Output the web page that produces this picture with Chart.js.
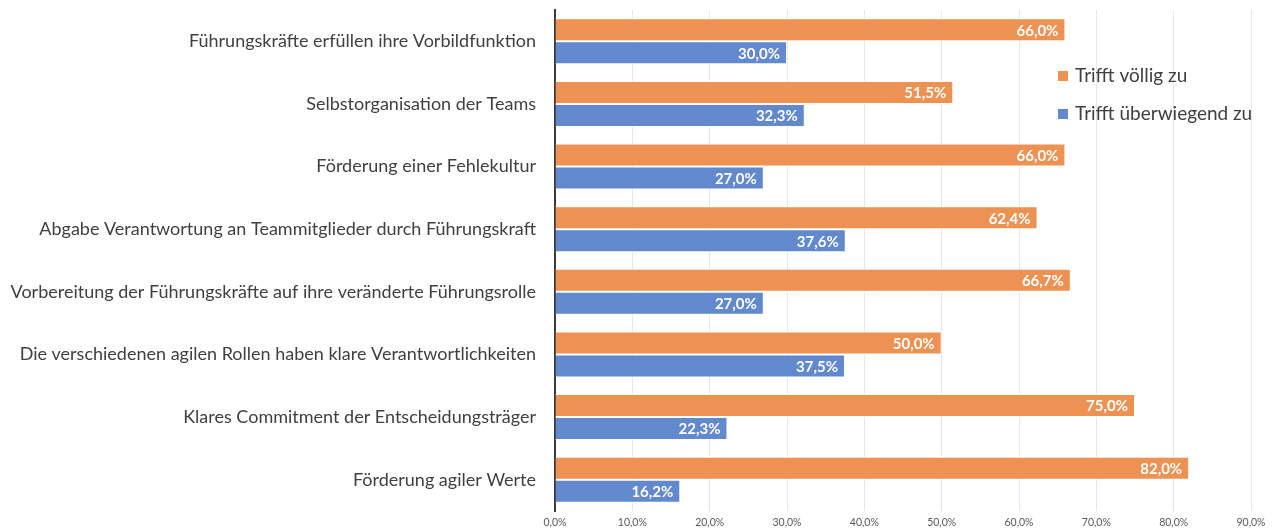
<!DOCTYPE html>
<html>
<head>
<meta charset="utf-8">
<script src="https://cdn.jsdelivr.net/npm/chart.js@4"></script>
<style>
html,body{margin:0;padding:0;background:#fff;}
#wrap{width:1272px;height:532px;position:relative;}
</style>
</head>
<body>
<div id="wrap"><canvas id="c" width="1272" height="532"></canvas></div>
<script>
const categories = [
  "Führungskräfte erfüllen ihre Vorbildfunktion",
  "Selbstorganisation der Teams",
  "Förderung einer Fehlekultur",
  "Abgabe Verantwortung an Teammitglieder durch Führungskraft",
  "Vorbereitung der Führungskräfte auf ihre veränderte Führungsrolle",
  "Die verschiedenen agilen Rollen haben klare Verantwortlichkeiten",
  "Klares Commitment der Entscheidungsträger",
  "Förderung agiler Werte"
];
const seriesNames = ["Trifft völlig zu", "Trifft überwiegend zu"];
const trifftVoellig = [66.0, 51.5, 66.0, 62.4, 66.7, 50.0, 75.0, 82.0];
const trifftUeberwiegend = [30.0, 32.3, 27.0, 37.6, 27.0, 37.5, 22.3, 16.2];
const xTicks = [0, 10, 20, 30, 40, 50, 60, 70, 80, 90];

const ORANGE = "#EE9254";
const BLUE = "#6289CE";
const fmt = v => v.toFixed(1).replace(".", ",") + "%";

const labelPlugin = {
  id: "barLabels",
  afterDatasetsDraw(chart) {
    const ctx = chart.ctx;
    ctx.save();
    ctx.font = "bold 15px Lato";
    ctx.fillStyle = "#ffffff";
    ctx.textAlign = "right";
    ctx.textBaseline = "middle";
    chart.data.datasets.forEach((ds, di) => {
      const meta = chart.getDatasetMeta(di);
      meta.data.forEach((el, i) => {
        ctx.fillText(fmt(ds.data[i]), el.x - 7, el.y + 1);
      });
    });
    ctx.restore();
  }
};

const legendPlugin = {
  id: "customLegend",
  afterDraw(chart) {
    const ctx = chart.ctx;
    ctx.save();
    ctx.font = "19px Lato";
    ctx.textBaseline = "middle";
    ctx.textAlign = "left";
    const x0 = chart.chartArea.right - 193;
    const ys = [76, 114];
    chart.data.datasets.forEach((ds, i) => {
      ctx.fillStyle = ds.backgroundColor;
      ctx.fillRect(x0, ys[i] - 5, 10, 10);
      ctx.fillStyle = "#404040";
      ctx.fillText(ds.label, x0 + 17, ys[i]);
    });
    ctx.restore();
  }
};

new Chart(document.getElementById("c"), {
  type: "bar",
  data: {
    labels: categories,
    datasets: [
      { label: seriesNames[0], data: trifftVoellig, backgroundColor: ORANGE, borderColor: "#ffffff", borderWidth: 1 },
      { label: seriesNames[1], data: trifftUeberwiegend, backgroundColor: BLUE, borderColor: "#ffffff", borderWidth: 1 }
    ]
  },
  options: {
    indexAxis: "y",
    responsive: false,
    animation: false,
    devicePixelRatio: 1,
    layout: { padding: { left: 0, right: 21, top: 10, bottom: 0 } },
    datasets: { bar: { categoryPercentage: 0.735, barPercentage: 1.0 } },
    plugins: { legend: { display: false }, tooltip: { enabled: false } },
    scales: {
      x: {
        min: 0, max: 90,
        afterBuildTicks: s => { s.ticks = xTicks.map(v => ({ value: v })); },
        afterFit: s => { s.height = 21; s.paddingLeft = 0; s.paddingRight = 0; },
        grid: { color: "#e8e8e8", lineWidth: 1, drawTicks: false },
        border: { display: false },
        ticks: {
          callback: v => fmt(v),
          font: { family: "Lato", size: 10.5 },
          color: "#595959",
          padding: 5,
          maxRotation: 0
        }
      },
      y: {
        afterFit: s => { s.width = 555; s.paddingTop = 0; s.paddingBottom = 0; },
        grid: { display: false, drawTicks: false },
        border: { display: true, color: "#3a3a3a", width: 2 },
        ticks: {
          font: { family: "Lato", size: 18 },
          color: "#404040",
          padding: 19
        }
      }
    }
  },
  plugins: [labelPlugin, legendPlugin]
});
</script>
</body>
</html>
